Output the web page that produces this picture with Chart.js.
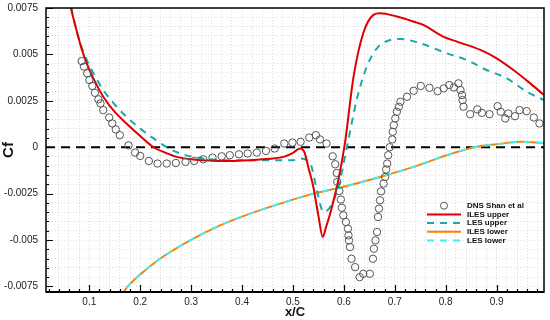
<!DOCTYPE html>
<html>
<head>
<meta charset="utf-8">
<script src="https://cdn.jsdelivr.net/npm/chart.js@4"></script>
<style>
  html, body { margin: 0; padding: 0; background: #fff; }
  #wrap { width: 550px; height: 320px; }
</style>
</head>
<body>
<div id="wrap"><canvas id="cf"></canvas></div>
<script>
// skin friction along the chord
const dnsX  = [0.085,0.0896,0.096,0.1,0.106,0.111,0.118,0.122,0.1275,0.139,0.145,0.152,0.16,0.177,0.19,0.2,0.217,0.234,0.252,0.27,0.289,0.306,0.324,0.342,0.36,0.376,0.394,0.411,0.429,0.447,0.464,0.483,0.499,0.515,0.532,0.545,0.553,0.566,0.578,0.583,0.586,0.587,0.591,0.594,0.596,0.599,0.604,0.608,0.609,0.61,0.612,0.615,0.622,0.631,0.638,0.651,0.657,0.659,0.662,0.665,0.667,0.669,0.671,0.673,0.678,0.681,0.683,0.685,0.687,0.69,0.695,0.696,0.698,0.701,0.704,0.708,0.711,0.724,0.737,0.751,0.768,0.784,0.796,0.807,0.816,0.825,0.829,0.832,0.833,0.835,0.848,0.862,0.871,0.886,0.902,0.908,0.917,0.923,0.936,0.945,0.959,0.973,0.984];
const dnsCf = [0.00464,0.00434,0.00398,0.00362,0.0033,0.00293,0.00258,0.00236,0.002,0.0016,0.00128,0.00096,0.00065,0.0001,-0.00029,-0.00047,-0.00074,-0.00088,-0.00088,-0.00085,-0.00079,-0.00074,-0.00065,-0.00056,-0.00049,-0.00043,-0.00038,-0.00034,-0.00029,-0.0002,-0.00007,0.0002,0.00025,0.00029,0.00052,0.00065,0.00042,0.0002,-0.00049,-0.00092,-0.00139,-0.00187,-0.00236,-0.00282,-0.00326,-0.00367,-0.00403,-0.00439,-0.00475,-0.00502,-0.00538,-0.00601,-0.00646,-0.007,-0.00682,-0.00682,-0.00601,-0.00547,-0.00502,-0.00457,-0.00376,-0.00331,-0.00286,-0.00238,-0.00196,-0.0016,-0.0012,-0.00088,-0.00043,0,0.00042,0.00083,0.00119,0.00155,0.00191,0.00218,0.00245,0.00272,0.00304,0.0033,0.0032,0.00302,0.00317,0.00335,0.00322,0.00344,0.00308,0.00281,0.00254,0.00218,0.00178,0.00204,0.00185,0.00178,0.00221,0.00191,0.00155,0.00182,0.00167,0.002,0.00194,0.0016,0.00128];

const ilesUpX  = [0.045,0.055,0.064,0.075,0.085,0.095,0.11,0.1275,0.15,0.173,0.2,0.226,0.25,0.272,0.304,0.37,0.435,0.481,0.5,0.514,0.523,0.53,0.54,0.55,0.5585,0.565,0.573,0.589,0.602,0.619,0.638,0.658,0.671,0.704,0.743,0.756,0.795,0.822,0.868,0.9,0.933,0.966,0.993];
const ilesUpCf = [0.0102,0.0088,0.0075,0.0063,0.0053,0.00452,0.0036,0.00272,0.0019,0.00128,0.0006,0,-0.0003,-0.00052,-0.00066,-0.00074,-0.00066,-0.00052,-0.0003,-0.00007,-0.0003,-0.00106,-0.00214,-0.0037,-0.00484,-0.0043,-0.00358,-0.00178,0.0002,0.0038,0.00614,0.00713,0.00722,0.00704,0.00671,0.00659,0.00596,0.00569,0.00524,0.00479,0.00416,0.00344,0.00281];

const lesUpX  = [0.045,0.055,0.064,0.08,0.095,0.11,0.1275,0.15,0.173,0.2,0.225,0.252,0.275,0.304,0.37,0.45,0.5,0.514,0.534,0.547,0.56,0.573,0.589,0.606,0.625,0.645,0.665,0.691,0.71,0.75,0.802,0.841,0.88,0.92,0.959,0.993];
const lesUpCf = [0.0103,0.009,0.0076,0.0058,0.0047,0.0039,0.00308,0.0023,0.00164,0.001,0.0005,0,-0.0003,-0.00052,-0.0007,-0.0007,-0.0007,-0.00061,-0.00088,-0.00232,-0.0035,-0.00322,-0.00214,0,0.00254,0.00434,0.00533,0.00578,0.00583,0.0056,0.00506,0.0047,0.00416,0.00371,0.00299,0.00254];

const lowerX  = [0.16,0.167,0.2,0.239,0.298,0.357,0.416,0.475,0.54,0.589,0.671,0.737,0.802,0.861,0.9,0.946,0.993];
const lowerCf = [-0.0082,-0.00781,-0.00686,-0.00601,-0.00502,-0.00421,-0.00358,-0.00304,-0.0025,-0.0022,-0.0016,-0.00106,-0.00043,0.00002,0.00016,0.00029,0.00023];

const xMajor = [0.1,0.2,0.3,0.4,0.5,0.6,0.7,0.8,0.9];
const yMajor = [-0.0075,-0.005,-0.0025,0,0.0025,0.005,0.0075];

const X_MIN = 0.015, X_MAX = 0.993, Y_MIN = -0.0078, Y_MAX = 0.0075;

const pts = (xs, ys) => xs.map((x, i) => ({ x, y: ys[i] }));

// minor ticks every 0.02 in x, 0.0005 in y
function minorTicks(lo, hi, step) {
  const out = [];
  for (let k = Math.ceil(lo / step - 1e-9); k * step <= hi + 1e-12; k++) out.push(+(k * step).toFixed(6));
  return out;
}
const xMinor = minorTicks(X_MIN, X_MAX, 0.02);
const yMinor = minorTicks(Y_MIN, Y_MAX, 0.0005);
const isMajor = (v, list) => list.some(m => Math.abs(m - v) < 1e-9);

const legendItems = [
  { label: 'DNS Shan et al', kind: 'circle' },
  { label: 'ILES upper', color: '#e00000', dash: [] },
  { label: 'LES upper',  color: '#1aa8a8', dash: [7, 6] },
  { label: 'ILES lower', color: '#ff8000', dash: [] },
  { label: 'LES lower',  color: '#40f0f0', dash: [7, 6] },
];

const framePlugin = {
  id: 'frame',
  beforeDatasetsDraw(chart) {
    const { ctx, chartArea: a, scales: { y } } = chart;
    const y0 = y.getPixelForValue(0);
    ctx.save();
    ctx.strokeStyle = '#000';
    ctx.lineWidth = 2;
    ctx.setLineDash([9, 6]);
    ctx.beginPath();
    ctx.moveTo(a.left, y0);
    ctx.lineTo(a.right, y0);
    ctx.stroke();
    ctx.restore();
  },
  afterDraw(chart) {
    const { ctx, chartArea: a, scales: { x, y } } = chart;
    ctx.save();
    ctx.strokeStyle = '#000';
    // inward tick marks
    ctx.lineWidth = 1.2;
    ctx.beginPath();
    xMinor.forEach(v => {
      const px = Math.round(x.getPixelForValue(v)) + 0.5;
      const len = isMajor(v, xMajor) ? 7 : 3;
      ctx.moveTo(px, a.bottom);
      ctx.lineTo(px, a.bottom - len);
    });
    yMinor.forEach(v => {
      const py = Math.round(y.getPixelForValue(v)) + 0.5;
      const len = isMajor(v, yMajor) ? 7 : 3;
      ctx.moveTo(a.left, py);
      ctx.lineTo(a.left + len, py);
    });
    ctx.stroke();
    // frame
    ctx.lineWidth = 1.5;
    ctx.strokeRect(a.left, a.top, a.right - a.left, a.bottom - a.top);
    ctx.lineWidth = 2;
    ctx.beginPath();
    ctx.moveTo(a.left, a.bottom);
    ctx.lineTo(a.right, a.bottom);
    ctx.stroke();

    // legend box, lower right inside the plot
    const lx = a.left + 381, ly = y.getPixelForValue(-0.00315), row = 8.7;
    ctx.font = 'bold 8px "Liberation Sans", Arial, sans-serif';
    ctx.textBaseline = 'middle';
    legendItems.forEach((it, i) => {
      const yy = ly + i * row;
      if (it.kind === 'circle') {
        ctx.strokeStyle = '#555';
        ctx.lineWidth = 1;
        ctx.setLineDash([]);
        ctx.beginPath();
        ctx.arc(lx + 17, yy, 3.5, 0, Math.PI * 2);
        ctx.stroke();
      } else {
        ctx.strokeStyle = it.color;
        ctx.lineWidth = 2;
        ctx.setLineDash(it.dash);
        ctx.beginPath();
        ctx.moveTo(lx, yy);
        ctx.lineTo(lx + 34, yy);
        ctx.stroke();
      }
      ctx.setLineDash([]);
      ctx.fillStyle = '#111';
      ctx.fillText(it.label, lx + 40, yy);
    });
    ctx.restore();
  }
};

function buildChart() {
  const ctx = document.getElementById('cf').getContext('2d');
  new Chart(ctx, {
    type: 'scatter',
    data: {
      datasets: [
        {
          label: 'DNS Shan et al',
          data: pts(dnsX, dnsCf),
          showLine: false,
          pointStyle: 'circle',
          pointRadius: 3.7,
          pointBorderWidth: 1,
          pointBorderColor: '#555',
          pointBackgroundColor: 'rgba(0,0,0,0)',
          order: 0,
        },
        {
          label: 'ILES upper',
          data: pts(ilesUpX, ilesUpCf),
          showLine: true,
          borderColor: '#e00000',
          borderWidth: 2,
          pointRadius: 0,
          cubicInterpolationMode: 'monotone',
          order: 1,
        },
        {
          label: 'LES upper',
          data: pts(lesUpX, lesUpCf),
          showLine: true,
          borderColor: '#1aa8a8',
          borderWidth: 2,
          borderDash: [7, 6],
          pointRadius: 0,
          cubicInterpolationMode: 'monotone',
          order: 2,
        },
        {
          label: 'LES lower',
          data: pts(lowerX, lowerCf),
          showLine: true,
          borderColor: '#40f0f0',
          borderWidth: 2,
          borderDash: [7, 6],
          pointRadius: 0,
          cubicInterpolationMode: 'monotone',
          order: 3,
        },
        {
          label: 'ILES lower',
          data: pts(lowerX, lowerCf),
          showLine: true,
          borderColor: '#ff8000',
          borderWidth: 2,
          pointRadius: 0,
          cubicInterpolationMode: 'monotone',
          order: 4,
        },
      ]
    },
    options: {
      responsive: true,
      maintainAspectRatio: false,
      animation: false,
      layout: { autoPadding: false, padding: { top: 8, right: 6, left: 0, bottom: 0 } },
      plugins: { legend: { display: false }, tooltip: { enabled: false } },
      scales: {
        x: {
          type: 'linear',
          min: X_MIN, max: X_MAX,
          afterBuildTicks: s => { s.ticks = xMinor.map(v => ({ value: v })); },
          afterFit: s => { s.height = 28; },
          grid: { color: '#d4d4d4', lineWidth: 0.8, drawTicks: true, tickLength: 4, tickColor: 'rgba(0,0,0,0)' },
          border: { display: false, dash: [1, 2] },
          ticks: {
            autoSkip: false, maxRotation: 0, padding: 0,
            color: '#222',
            font: { family: '"Liberation Sans", Arial, sans-serif', size: 10 },
            callback: v => isMajor(v, xMajor) ? String(+v.toFixed(1)) : '',
          },
          title: {
            display: true, text: 'x/C', color: '#111', padding: { top: 0, bottom: 0 },
            font: { family: '"Liberation Sans", Arial, sans-serif', size: 13, weight: 'bold' },
          },
        },
        y: {
          type: 'linear',
          min: Y_MIN, max: Y_MAX,
          afterBuildTicks: s => { s.ticks = yMinor.map(v => ({ value: v })); },
          afterFit: s => { s.width = 46; },
          grid: { color: '#d4d4d4', lineWidth: 0.8, drawTicks: true, tickLength: 8, tickColor: 'rgba(0,0,0,0)' },
          border: { display: false, dash: [1, 2] },
          ticks: {
            autoSkip: false, padding: 0,
            color: '#222',
            font: { family: '"Liberation Sans", Arial, sans-serif', size: 10 },
            callback: v => isMajor(v, yMajor) ? String(+v.toFixed(4)) : '',
          },
          title: {
            display: true, text: 'Cf', color: '#111', padding: { top: 0, bottom: 0 },
            font: { family: '"Liberation Sans", Arial, sans-serif', size: 15, weight: 'bold' },
          },
        },
      }
    },
    plugins: [framePlugin]
  });
}

document.addEventListener('DOMContentLoaded', buildChart);
</script>
</body>
</html>
